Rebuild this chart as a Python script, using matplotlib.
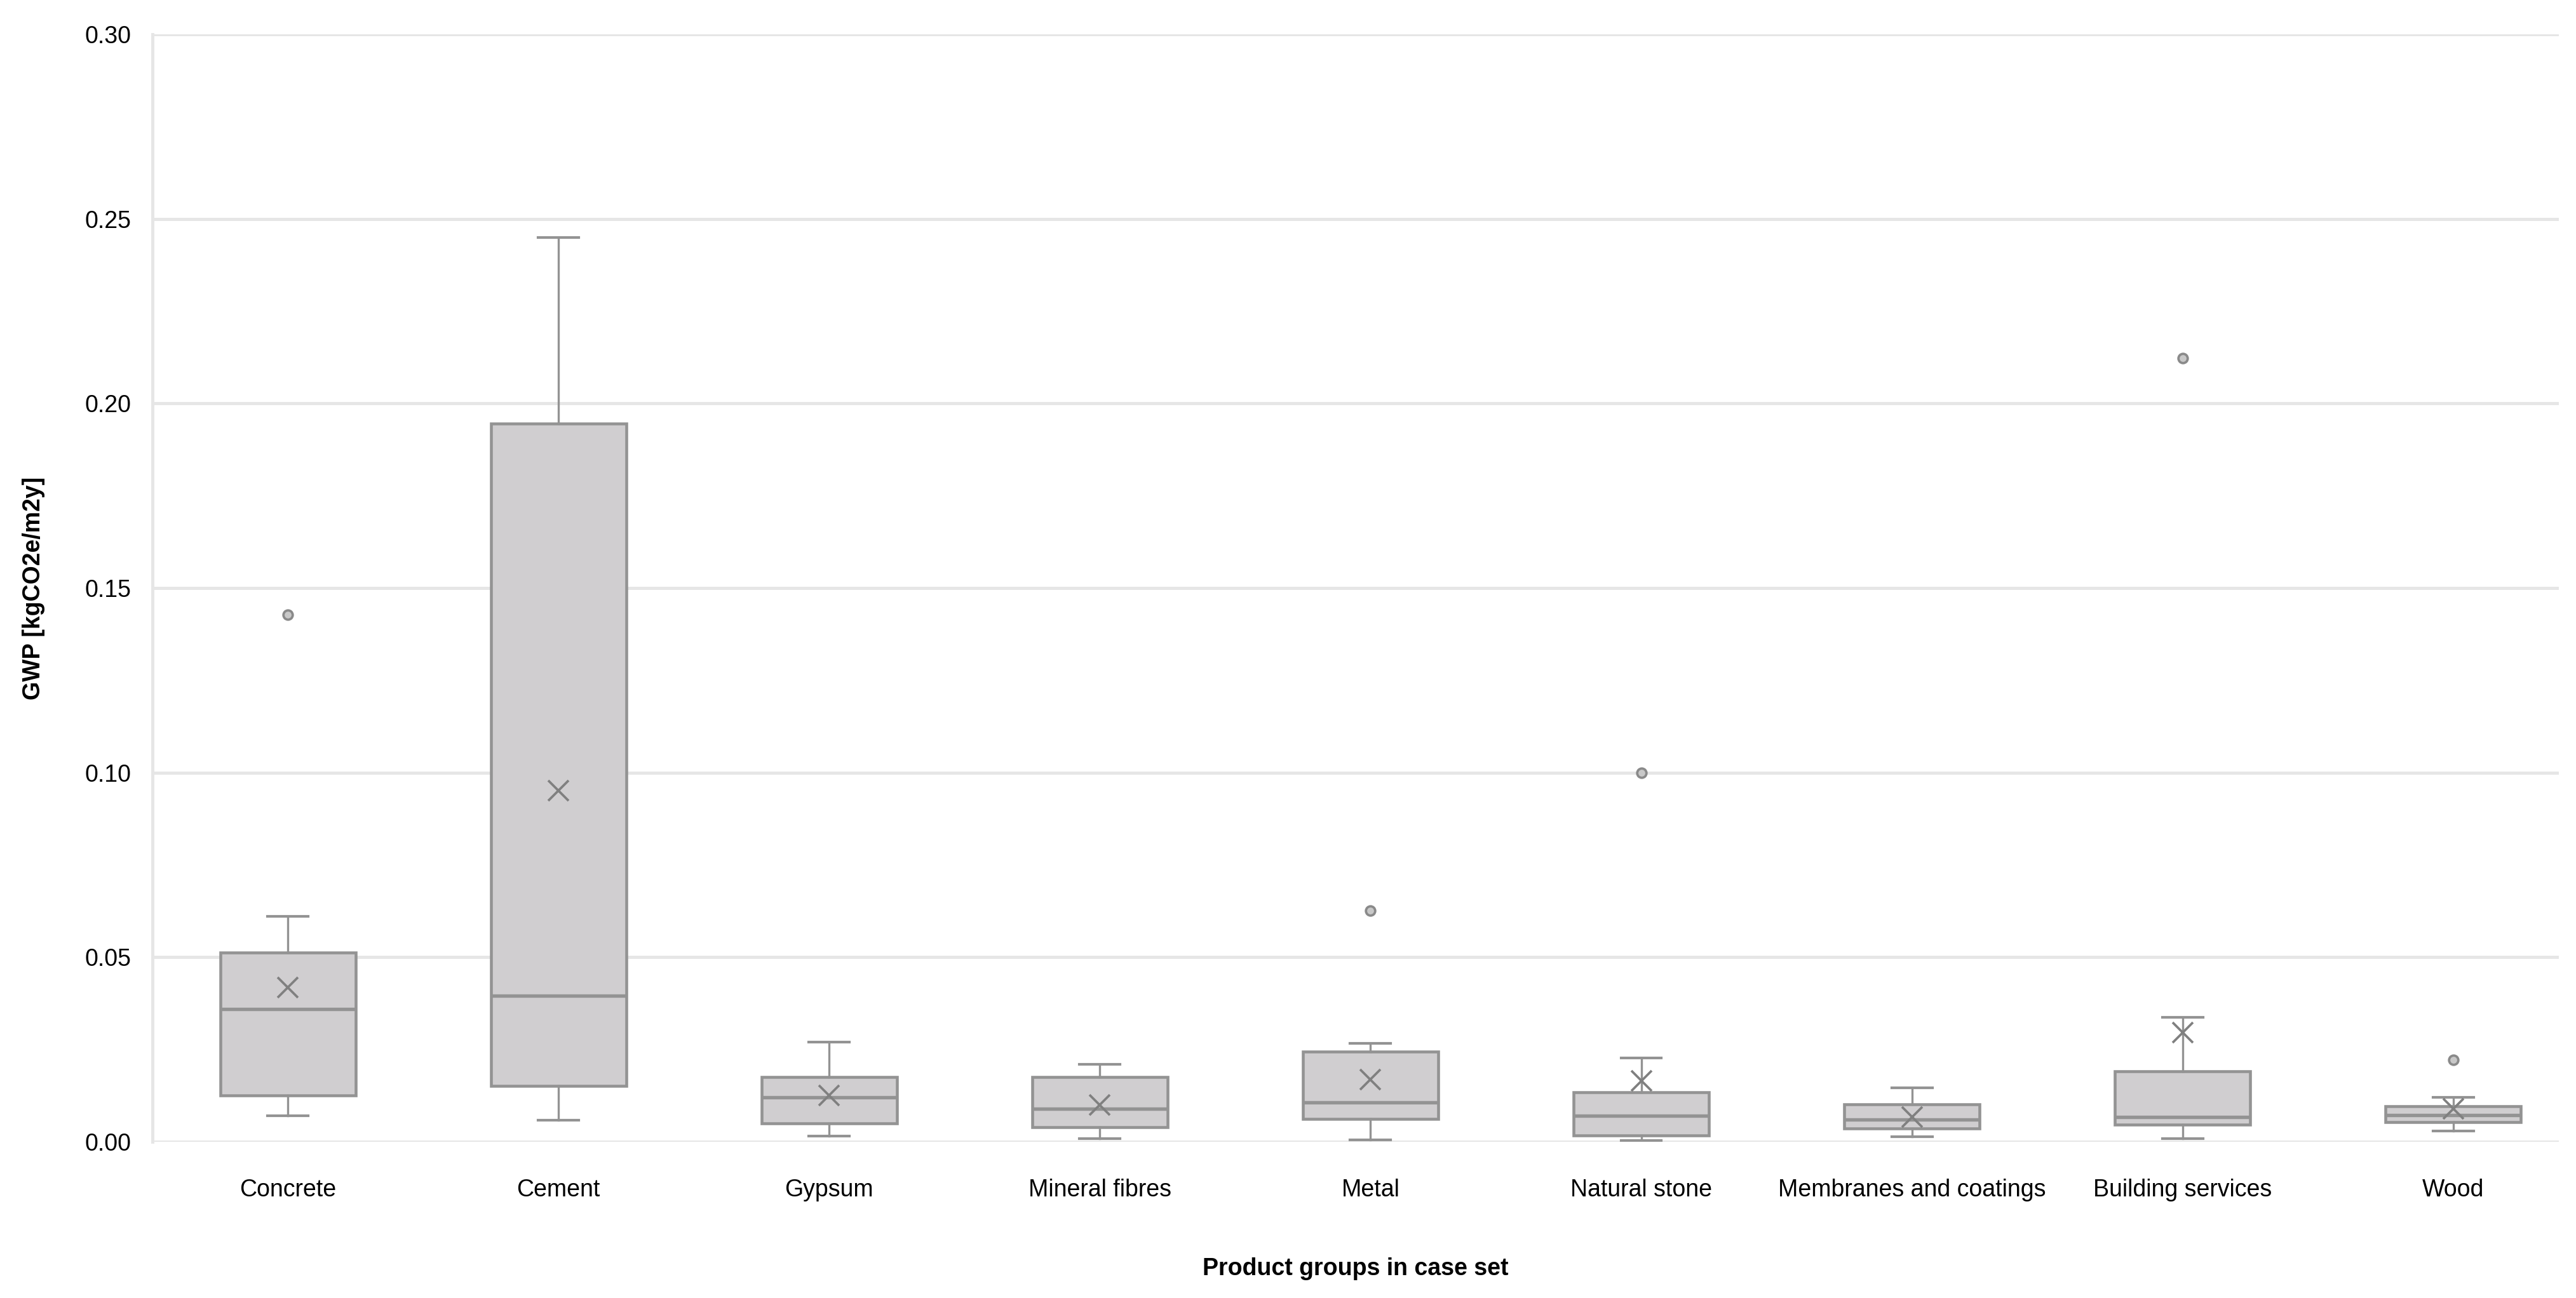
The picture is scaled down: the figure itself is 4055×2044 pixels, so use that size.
import matplotlib as mpl
mpl.use('Agg')
import matplotlib.pyplot as plt

plt.rcParams['font.family'] = ['Liberation Sans', 'DejaVu Sans']

# product groups and box statistics (kgCO2e/m2y)
groups = ["Concrete", "Cement", "Gypsum", "Mineral fibres", "Metal",
          "Natural stone", "Membranes and coatings", "Building services", "Wood"]
whisker_low = [0.0071, 0.0058, 0.0015, 0.0009, 0.0005, 0.0004, 0.0013, 0.0008, 0.0029]
q1 = [0.0125, 0.0151, 0.0050, 0.0040, 0.0062, 0.0018, 0.0036, 0.0046, 0.0053]
median = [0.0360, 0.0396, 0.0120, 0.0089, 0.0107, 0.0071, 0.0061, 0.0067, 0.0073]
q3 = [0.0512, 0.1945, 0.0175, 0.0175, 0.0245, 0.0134, 0.0102, 0.0191, 0.0096]
whisker_high = [0.0610, 0.2450, 0.0270, 0.0210, 0.0267, 0.0227, 0.0147, 0.0337, 0.0121]
mean = [0.0418, 0.0952, 0.0125, 0.0100, 0.0169, 0.0165, 0.0067, 0.0296, 0.0089]
outliers = [[0.1428], [], [], [], [0.0627], [0.1000], [], [0.2122], [0.0222]]

box_fill = '#D0CED0'
edge = '#939393'
grid = '#E6E6E6'

stats = []
for i in range(len(groups)):
    stats.append({'label': groups[i], 'whislo': whisker_low[i], 'q1': q1[i],
                  'med': median[i], 'q3': q3[i], 'whishi': whisker_high[i],
                  'mean': mean[i], 'fliers': outliers[i]})

fig = plt.figure(figsize=(4055 / 300, 2044 / 300), dpi=300)
ax = fig.add_axes([240 / 4055, 1 - 1798 / 2044, (4028 - 240) / 4055, (1798 - 54) / 2044])

positions = [i + 0.5 for i in range(len(groups))]
ax.bxp(stats, positions=positions, widths=0.5, patch_artist=True, showmeans=True,
       boxprops=dict(facecolor=box_fill, edgecolor=edge, linewidth=1.1),
       medianprops=dict(color=edge, linewidth=1.3),
       whiskerprops=dict(color=edge, linewidth=0.8),
       capprops=dict(color=edge, linewidth=1.0),
       capwidths=0.15,
       meanprops=dict(marker='x', markeredgecolor='#808080', markersize=7.5,
                      markeredgewidth=0.9),
       flierprops=dict(marker='o', markerfacecolor='#C8C8C8', markeredgecolor='#8A8A8A',
                       markersize=3.5, markeredgewidth=0.9))

ax.set_xlim(0, 8.89)
ax.set_ylim(0, 0.30)
ax.set_yticks([0.0, 0.05, 0.10, 0.15, 0.20, 0.25, 0.30])
ax.set_yticklabels(['%.2f' % v for v in ax.get_yticks()])
ax.set_xticks(positions)
ax.set_xticklabels(groups)
ax.tick_params(axis='both', length=0, labelsize=9)
ax.tick_params(axis='x', pad=14)
ax.tick_params(axis='y', pad=8)

ax.yaxis.grid(True, color=grid, linewidth=1.2)
ax.set_axisbelow(True)
for s in ['top', 'right', 'bottom']:
    ax.spines[s].set_visible(False)
ax.spines['left'].set_color(grid)
ax.spines['left'].set_linewidth(1.2)

ax.set_ylabel('GWP [kgCO2e/m2y]', fontsize=9, fontweight='bold', labelpad=15)
ax.set_xlabel('Product groups in case set', fontsize=9, fontweight='bold', labelpad=21)

plt.savefig('out.png', dpi=300)
plt.close()
